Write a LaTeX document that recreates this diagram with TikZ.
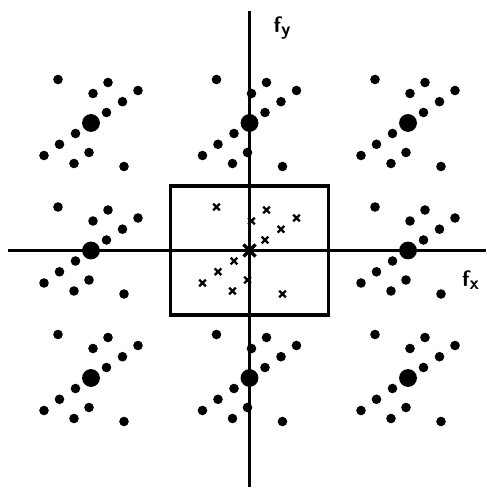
\documentclass[tikz,border=0pt]{standalone}
\begin{document}
\begin{tikzpicture}[x=0.03cm,y=0.03cm,
  axis/.style={line width=3pt},
  xmk/.style={line width=2pt}]
\useasboundingbox (-249.5,-238.5) rectangle (236.5,250.5);
% axes and labels
\draw[axis] (-241.5,0) -- (236.5,0);
\draw[axis] (0,-236.5) -- (0,239.5);
\node (fy) at (32.5,222.5) {\sffamily\bfseries{\fontsize{19}{21}\selectfont f}\raisebox{-3pt}{\fontsize{16}{17}\selectfont y}};
\node (fx) at (221,-29.5) {\sffamily\bfseries{\fontsize{19}{21}\selectfont f}\raisebox{-3pt}{\fontsize{16}{17}\selectfont x}};
% box round the origin
\draw[line width=2.6pt] (-79.25,-64.5) rectangle (79.25,64.5);
% replicas
\foreach \i in {-1,0,1}
  \foreach \j in {-1,0,1} {
    \pgfmathtruncatemacro\k{abs(\i)+abs(\j)}
    \ifnum\k>0
      \begin{scope}[shift={(\i*158.5,\j*127.5)}]
        \fill (0,0) circle (7.6pt);
        \foreach \u/\v in {15.5/10.5,31.5/21.3,47/32.5,2/29.5,17/40.5,-33/43.5} {
          \fill (\u,\v) circle (4.1pt);
          \fill ({-(\u)},{-(\v)}) circle (4.1pt);
        }
      \end{scope}
    \fi
  }
% samples in the box
\draw[line width=3pt] (-6,-6) -- (6,6) (-6,6) -- (6,-6);
\foreach \u/\v in {15.5/10.5,31.5/21.3,47/32.5,2/29.5,17/40.5,-33/43.5} {
  \draw[xmk] (\u,\v) +(-3.3,-3.3) -- +(3.3,3.3) +(-3.3,3.3) -- +(3.3,-3.3);
  \draw[xmk] ({-(\u)},{-(\v)}) +(-3.3,-3.3) -- +(3.3,3.3) +(-3.3,3.3) -- +(3.3,-3.3);
}
\end{tikzpicture}
\end{document}
